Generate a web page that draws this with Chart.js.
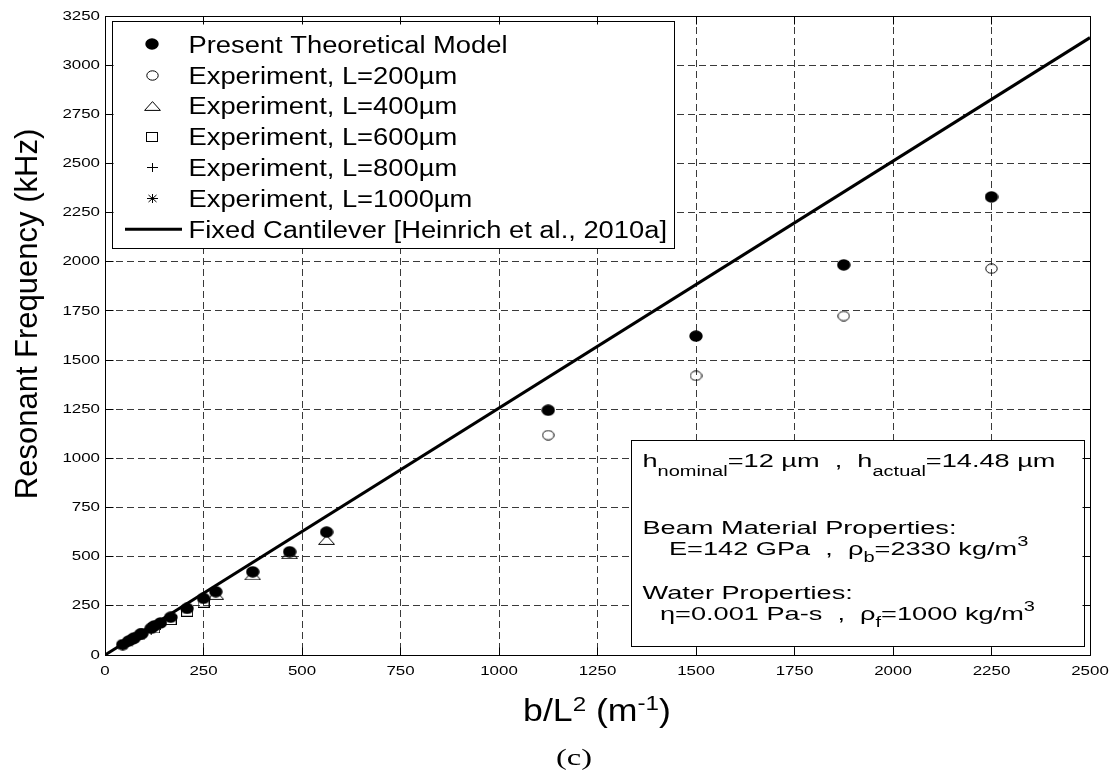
<!DOCTYPE html>
<html><head><meta charset="utf-8">
<script src="https://cdn.jsdelivr.net/npm/chart.js@4.4.1/dist/chart.umd.min.js"></script>
<style>html,body{margin:0;padding:0;background:#fff;overflow:hidden}</style>
</head><body>
<canvas id="c" width="1116" height="771" style="display:block;width:1116px;height:771px"></canvas>
<script>
// ---------------- data ----------------
const xL200  = [1125, 1500, 1875, 2250];
const xL400  = [281.25, 375, 468.75, 562.5];
const xL600  = [125, 166.7, 208.3, 250];
const xL800  = [70.3, 93.75, 117.2, 140.6];
const xL1000 = [45, 60, 75, 90];

const modelL200  = [1245, 1622, 1984, 2330];
const modelL400  = [322, 423, 525, 625];
const modelL600  = [148, 192, 237, 288];
const modelL800  = [82, 109, 136, 163];
const modelL1000 = [53, 71, 88, 106];

const expL200  = [1118, 1420, 1724, 1965];
const expL400  = [305, 405, 513, 585];
const expL600  = [135, 178, 220, 266];
const expL800  = [77, 102, 127, 152];
const expL1000 = [50, 66, 83, 99];

const fixedX = [0, 2500];
const fixedY = [0, 3140];

const xTickValues = [0, 250, 500, 750, 1000, 1250, 1500, 1750, 2000, 2250, 2500];
const yTickValues = [0, 250, 500, 750, 1000, 1250, 1500, 1750, 2000, 2250, 2500, 2750, 3000, 3250];

const legendLabels = [
  'Present Theoretical Model',
  'Experiment, L=200\u00B5m',
  'Experiment, L=400\u00B5m',
  'Experiment, L=600\u00B5m',
  'Experiment, L=800\u00B5m',
  'Experiment, L=1000\u00B5m',
  'Fixed Cantilever [Heinrich et al., 2010a]'
];
const yTitle = 'Resonant Frequency (kHz)';

// ---------------- helpers ----------------
const FONT = '"Liberation Sans", Arial, Helvetica, sans-serif';
const SERIF = '"Liberation Serif", "Times New Roman", serif';
const TICK_SX = 1.3;

function pts(xs, ys) { return xs.map((x, i) => ({ x: x, y: ys[i] })); }

function mk(w, h, fn) {
  const c = document.createElement('canvas');
  c.width = w; c.height = h;
  const g = c.getContext('2d');
  g.strokeStyle = '#000'; g.fillStyle = '#000'; g.lineWidth = 1;
  fn(g, w, h);
  return c;
}
const imgFilled = mk(14, 12, (g, w, h) => { g.beginPath(); g.ellipse(w/2, h/2, w/2 - 0.3, h/2 - 0.3, 0, 0, Math.PI*2); g.fill(); });
const imgOpen   = mk(13, 11, (g, w, h) => { g.beginPath(); g.ellipse(w/2, h/2, w/2 - 0.8, h/2 - 0.8, 0, 0, Math.PI*2); g.stroke(); });
const imgTri    = mk(17, 10, (g, w, h) => { g.beginPath(); g.moveTo(w/2, 0.6); g.lineTo(w - 0.6, h - 0.6); g.lineTo(0.6, h - 0.6); g.closePath(); g.stroke(); });
const imgSq     = mk(12, 10, (g, w, h) => { g.strokeRect(0.5, 0.5, w - 1, h - 1); });
const imgPlus   = mk(11, 9,  (g, w, h) => { g.beginPath(); g.moveTo(0, h/2); g.lineTo(w, h/2); g.moveTo(w/2, 0); g.lineTo(w/2, h); g.stroke(); });
const imgStar   = mk(11, 9,  (g, w, h) => { g.beginPath(); g.moveTo(0, h/2); g.lineTo(w, h/2); g.moveTo(w/2, 0); g.lineTo(w/2, h);
                                             g.moveTo(1.5, 1); g.lineTo(w - 1.5, h - 1); g.moveTo(w - 1.5, 1); g.lineTo(1.5, h - 1); g.stroke(); });

function runs(ctx, x, y, list, sx) {
  let cx = x;
  for (const r of list) {
    ctx.font = (r.size) + 'px ' + (r.family || FONT);
    const w = ctx.measureText(r.t).width * sx;
    ctx.save();
    ctx.translate(cx, y + (r.dy || 0));
    ctx.scale(sx, 1);
    ctx.textAlign = 'left'; ctx.textBaseline = 'alphabetic';
    ctx.fillText(r.t, 0, 0);
    ctx.restore();
    cx += w;
  }
  return cx - x;
}
function runsWidth(ctx, list, sx) {
  let w = 0;
  for (const r of list) { ctx.font = r.size + 'px ' + (r.family || FONT); w += ctx.measureText(r.t).width * sx; }
  return w;
}

// stretch the library's tick labels horizontally (reference text is wide)
const stretchTicks = {
  id: 'stretchTicks',
  afterLayout(chart) {
    ['x', 'y'].forEach(id => {
      const s = chart.scales[id];
      if (!s || s._stretched) return;
      const orig = s.drawLabels;
      s.drawLabels = function (area) {
        const ctx = this.ctx;
        const ft = ctx.fillText;
        ctx.fillText = function (t, x, y) { this.save(); this.translate(x, y); this.scale(TICK_SX, 1); ft.call(this, t, 0, 0); this.restore(); };
        try { orig.call(this, area); } finally { delete ctx.fillText; }
      };
      s._stretched = true;
    });
  }
};

const decor = {
  id: 'decor',
  afterDraw(chart) {
    const ctx = chart.ctx;
    const a = chart.chartArea;
    const xs = chart.scales.x, ys = chart.scales.y;
    ctx.save();
    ctx.fillStyle = '#000'; ctx.strokeStyle = '#000';

    // ---------- legend ----------
    const LF = 23;
    ctx.font = LF + 'px ' + FONT;
    const lsx = 319 / ctx.measureText(legendLabels[0]).width;
    let maxW = 0;
    legendLabels.forEach(t => { maxW = Math.max(maxW, ctx.measureText(t).width * lsx); });
    const lx0 = 112.5, ly0 = 21.5, tx = 188.5;
    const lRight = Math.round(tx + maxW + 7) + 0.5;
    const lBottom = 248.5;
    ctx.fillStyle = '#fff';
    ctx.fillRect(lx0, ly0, lRight - lx0, lBottom - ly0);
    ctx.lineWidth = 1; ctx.strokeStyle = '#000';
    ctx.strokeRect(lx0, ly0, lRight - lx0, lBottom - ly0);
    ctx.fillStyle = '#000';
    const imgs = [imgFilled, imgOpen, imgTri, imgSq, imgPlus, imgStar, null];
    legendLabels.forEach((t, i) => {
      const base = 52.7 + i * 30.8;
      runs(ctx, tx, base, [{ t: t, size: LF }], lsx);
      const cy = base - 8.3;
      if (imgs[i]) {
        const im = imgs[i];
        ctx.drawImage(im, Math.round(152 - im.width / 2), Math.round(cy - im.height / 2));
      } else {
        ctx.save(); ctx.lineWidth = 3; ctx.beginPath(); ctx.moveTo(125, cy); ctx.lineTo(182, cy); ctx.stroke(); ctx.restore();
      }
    });

    // ---------- parameter box ----------
    const bx0 = 631.5, by0 = 440.5, bx1 = 1084.5, by1 = 646.5;
    ctx.fillStyle = '#fff';
    ctx.fillRect(bx0, by0, bx1 - bx0, by1 - by0);
    ctx.strokeRect(bx0, by0, bx1 - bx0, by1 - by0);
    ctx.fillStyle = '#000';
    const TF = 19, SF = 14;
    ctx.font = TF + 'px ' + FONT;
    const tsx = 314 / ctx.measureText('Beam Material Properties:').width;
    runs(ctx, 642.5, 467, [
      { t: 'h', size: TF }, { t: 'nominal', size: SF, dy: 9 },
      { t: '=12 \u00B5m  ,  h', size: TF }, { t: 'actual', size: SF, dy: 9 },
      { t: '=14.48 \u00B5m', size: TF }
    ], tsx);
    runs(ctx, 642.5, 534, [{ t: 'Beam Material Properties:', size: TF }], tsx);
    runs(ctx, 669, 555, [
      { t: 'E=142 GPa  ,  \u03C1', size: TF }, { t: 'b', size: SF, dy: 7 },
      { t: '=2330 kg/m', size: TF }, { t: '3', size: SF, dy: -9 }
    ], tsx);
    runs(ctx, 642.5, 599, [{ t: 'Water Properties:', size: TF }], tsx);
    runs(ctx, 660, 620, [
      { t: '\u03B7=0.001 Pa-s  ,  \u03C1', size: TF }, { t: 'f', size: SF, dy: 7 },
      { t: '=1000 kg/m', size: TF }, { t: '3', size: SF, dy: -9 }
    ], tsx);

    // ---------- axes box and inward ticks ----------
    const L = Math.floor(xs.getPixelForValue(0)) + 0.5;
    const R = Math.floor(xs.getPixelForValue(2500)) + 0.5;
    const T = Math.floor(ys.getPixelForValue(3250)) + 0.5;
    const B = Math.floor(ys.getPixelForValue(0)) + 0.5;
    ctx.lineWidth = 1; ctx.strokeStyle = '#000';
    ctx.beginPath();
    ctx.rect(L, T, R - L, B - T);
    xTickValues.forEach(v => {
      const p = Math.floor(xs.getPixelForValue(v)) + 0.5;
      ctx.moveTo(p, B); ctx.lineTo(p, B - 8);
      ctx.moveTo(p, T); ctx.lineTo(p, T + 8);
    });
    yTickValues.forEach(v => {
      const p = Math.floor(ys.getPixelForValue(v)) + 0.5;
      ctx.moveTo(L, p); ctx.lineTo(L + 8, p);
      ctx.moveTo(R, p); ctx.lineTo(R - 8, p);
    });
    ctx.stroke();

    // ---------- axis titles ----------
    ctx.save();
    ctx.translate(36.5, 314);
    ctx.rotate(-Math.PI / 2);
    ctx.font = '31px ' + FONT;
    ctx.textAlign = 'center'; ctx.textBaseline = 'alphabetic';
    ctx.fillText(yTitle, 0, 0);
    ctx.restore();

    const xt = [
      { t: 'b/L', size: 31 }, { t: '2', size: 21, dy: -10 },
      { t: ' (m', size: 31 }, { t: '-1', size: 21, dy: -11 },
      { t: ')', size: 31 }
    ];
    const xsx = 1.15;
    const xw = runsWidth(ctx, xt, xsx);
    runs(ctx, 597 - xw / 2, 721, xt, xsx);

    const cl = [{ t: '(c)', size: 24, family: SERIF }];
    const cw = runsWidth(ctx, cl, 1.35);
    runs(ctx, 574 - cw / 2, 765, cl, 1.35);

    ctx.restore();
  }
};

const tickFont = { family: FONT, size: 13 };

new Chart(document.getElementById('c'), {
  type: 'scatter',
  data: {
    datasets: [
      { label: legendLabels[6], data: pts(fixedX, fixedY), showLine: true, borderColor: '#000', borderWidth: 3,
        pointRadius: 0, fill: false, order: 0 },
      { label: legendLabels[0],
        data: pts(xL200, modelL200).concat(pts(xL400, modelL400), pts(xL600, modelL600), pts(xL800, modelL800), pts(xL1000, modelL1000)),
        pointStyle: imgFilled, pointRadius: 6, order: 1 },
      { label: legendLabels[1], data: pts(xL200, expL200),  pointStyle: imgOpen, pointRadius: 6, order: 2 },
      { label: legendLabels[2], data: pts(xL400, expL400),  pointStyle: imgTri,  pointRadius: 6, order: 3 },
      { label: legendLabels[3], data: pts(xL600, expL600),  pointStyle: imgSq,   pointRadius: 6, order: 4 },
      { label: legendLabels[4], data: pts(xL800, expL800),  pointStyle: imgPlus, pointRadius: 6, order: 5 },
      { label: legendLabels[5], data: pts(xL1000, expL1000), pointStyle: imgStar, pointRadius: 6, order: 6 }
    ]
  },
  options: {
    responsive: false,
    animation: false,
    devicePixelRatio: 1,
    layout: { padding: { left: 0, right: 26, top: 16, bottom: 0 } },
    plugins: { legend: { display: false }, tooltip: { enabled: false } },
    scales: {
      x: {
        type: 'linear', min: 0, max: 2500,
        afterBuildTicks: s => { s.ticks = xTickValues.map(v => ({ value: v })); },
        afterFit: s => { s.height = 116; },
        ticks: { color: '#000', font: tickFont, padding: 9, autoSkip: false, maxRotation: 0, callback: v => String(v) },
        grid: { color: '#3a3a3a', lineWidth: 1, drawTicks: false },
        border: { display: false, dash: [7, 4] }
      },
      y: {
        type: 'linear', min: 0, max: 3250,
        afterBuildTicks: s => { s.ticks = yTickValues.map(v => ({ value: v })); },
        afterFit: s => { s.width = 105; },
        ticks: { color: '#000', font: tickFont, padding: 5, autoSkip: false, callback: v => String(v) },
        grid: { color: '#3a3a3a', lineWidth: 1, drawTicks: false },
        border: { display: false, dash: [7, 4] }
      }
    }
  },
  plugins: [stretchTicks, decor]
});
</script>
</body></html>
